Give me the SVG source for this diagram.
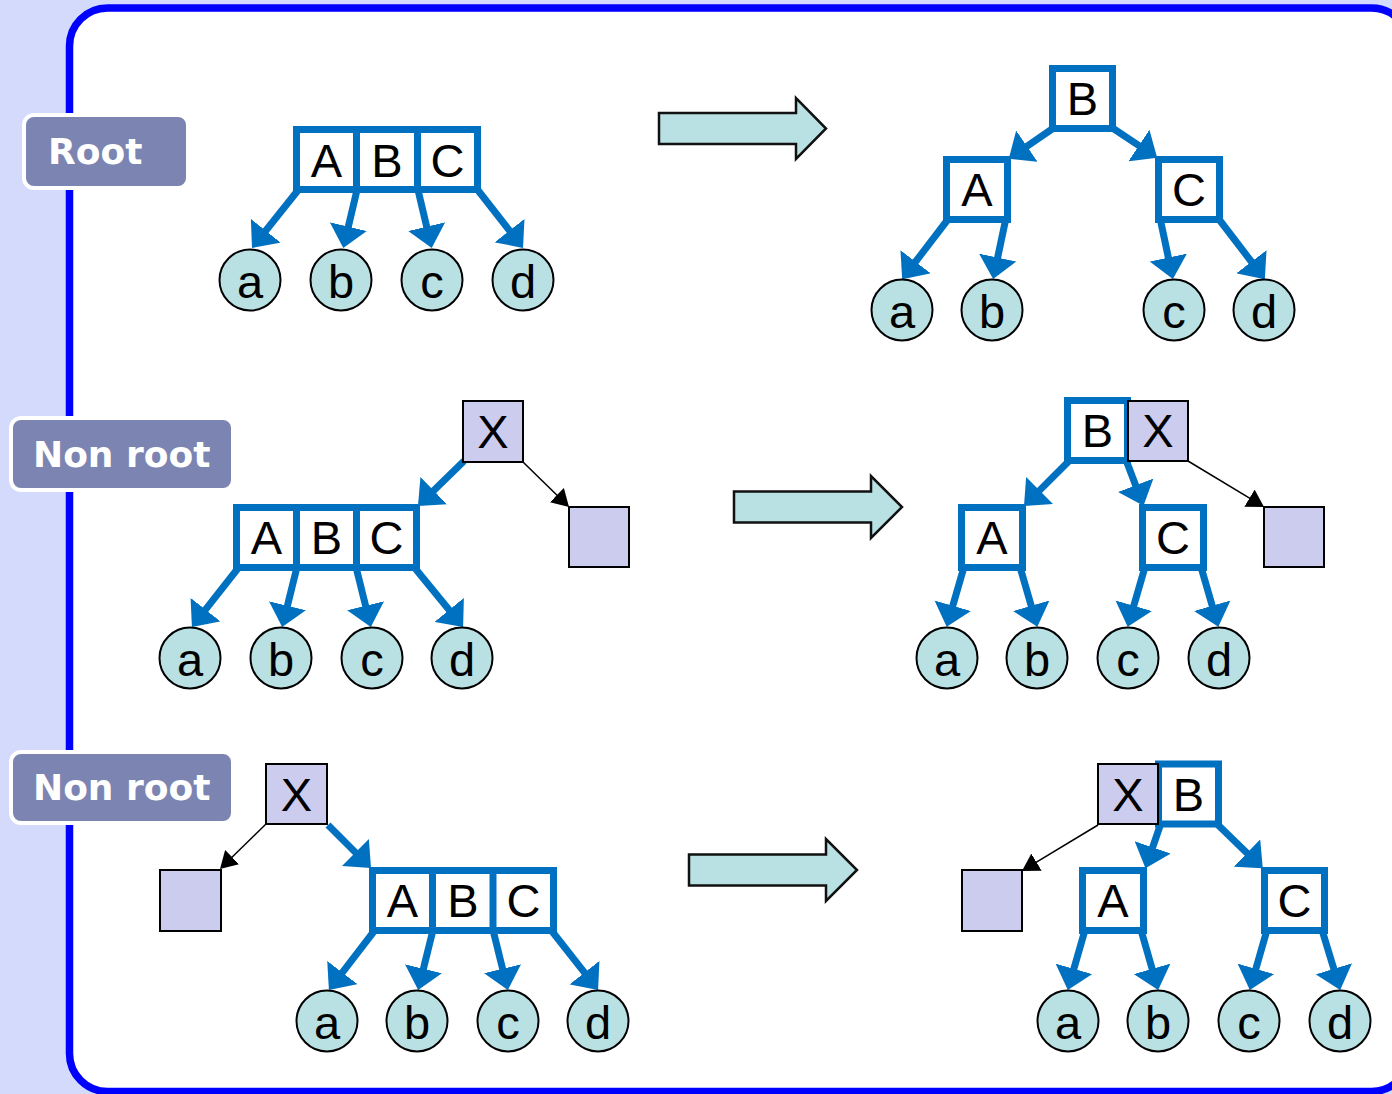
<svg xmlns="http://www.w3.org/2000/svg" width="1392" height="1094" viewBox="0 0 1392 1094">
<style>
.bnode{fill:#fff;stroke:#0070C0;stroke-width:7}
.div{stroke:#0070C0;stroke-width:7}
.xnode{fill:#CCCCEE;stroke:#000;stroke-width:2}
.leaf{fill:#B9E0E2;stroke:#000;stroke-width:2}
.t{font-family:"Liberation Sans",Arial,sans-serif;font-size:47px;fill:#000;text-anchor:middle}
.lbl{fill:#7C84B1;stroke:#fff;stroke-width:4}
.lt{font-family:"DejaVu Sans",Verdana,sans-serif;font-weight:bold;font-size:36px;fill:#fff}
.conn{fill:none;stroke:#0070C0;stroke-width:7;marker-end:url(#ab)}
.thin{fill:none;stroke:#000;stroke-width:1.5;marker-end:url(#ak)}
.big{fill:#B9E0E2;stroke:#111;stroke-width:2.5;stroke-linejoin:miter}
</style>
<defs>
<marker id="ab" markerUnits="userSpaceOnUse" viewBox="0 0 22 38" markerWidth="22" markerHeight="38" refX="1" refY="19" orient="auto">
<path d="M0,0 L22,19 L0,38 Z" fill="#0070C0"/>
</marker>
<marker id="ak" markerUnits="userSpaceOnUse" viewBox="0 0 17 20" markerWidth="17" markerHeight="20" refX="2" refY="10" orient="auto">
<path d="M0,0 L17,10 L0,20 Z" fill="#000"/>
</marker>
</defs>
<rect x="0" y="0" width="1392" height="1094" fill="#D4DAFC"/>
<rect id="frame" x="69.5" y="8" width="1340" height="1083.5" rx="38" ry="38" fill="#fff" stroke="#0000FF" stroke-width="7.5"/>

<g id="labels">
<g id="label-root"><rect class="lbl" x="24" y="115" width="164" height="73" rx="10"/><text class="lt" x="48" y="164">Root</text></g>
<g id="label-nonroot-1"><rect class="lbl" x="11" y="418" width="222" height="72" rx="10"/><text class="lt" x="33" y="467">Non root</text></g>
<g id="label-nonroot-2"><rect class="lbl" x="11" y="752" width="222" height="71" rx="10"/><text class="lt" x="33" y="800">Non root</text></g>
</g>

<g id="transform-arrows">
<path class="big" d="M659,113 H796 V98 L826,128.5 L796,159 V144 H659 Z"/>
<path class="big" d="M734,491.5 H871 V476 L902,507 L871,538 V522.5 H734 Z"/>
<path class="big" d="M689,854.5 H826 V839 L857,870 L826,901 V885.5 H689 Z"/>
</g>

<g id="connectors">
<!-- row 1 left -->
<line class="conn" x1="299" y1="189" x2="265.1" y2="231.5"/>
<line class="conn" x1="357" y1="190" x2="348.1" y2="227.6"/>
<line class="conn" x1="418" y1="190" x2="426.9" y2="227.6"/>
<line class="conn" x1="477" y1="189" x2="510.1" y2="231.4"/>
<!-- row 1 right -->
<line class="conn" x1="1055" y1="127" x2="1026.1" y2="146.8"/>
<line class="conn" x1="1111" y1="127" x2="1139.7" y2="146.1"/>
<line class="conn" x1="949" y1="218" x2="914.95" y2="262.5"/>
<line class="conn" x1="1006" y1="218" x2="997.45" y2="258.5"/>
<line class="conn" x1="1160" y1="218" x2="1168.55" y2="258.5"/>
<line class="conn" x1="1218" y1="218" x2="1252.05" y2="262.5"/>
<!-- row 2 left -->
<line class="conn" x1="464" y1="461" x2="433" y2="491.3"/>
<line class="conn" x1="239" y1="567" x2="204.9" y2="610.4"/>
<line class="conn" x1="297" y1="567" x2="287.2" y2="606.7"/>
<line class="conn" x1="356" y1="567" x2="365.8" y2="606.7"/>
<line class="conn" x1="414" y1="567" x2="449.8" y2="610.7"/>
<line class="thin" x1="523" y1="462" x2="558.3" y2="496.5"/>
<!-- row 2 right -->
<line class="conn" x1="1070" y1="460" x2="1038.85" y2="491.15"/>
<line class="conn" x1="1126" y1="460" x2="1136" y2="486.2"/>
<line class="conn" x1="964" y1="567" x2="952.5" y2="606.7"/>
<line class="conn" x1="1020" y1="567" x2="1031.5" y2="606.7"/>
<line class="conn" x1="1145" y1="567" x2="1133.5" y2="606.7"/>
<line class="conn" x1="1201" y1="567" x2="1212.5" y2="606.7"/>
<line class="thin" x1="1188" y1="461" x2="1251.2" y2="499.2"/>
<!-- row 3 left -->
<line class="conn" x1="328" y1="825" x2="356.15" y2="853.15"/>
<line class="conn" x1="375" y1="930" x2="341.7" y2="973.3"/>
<line class="conn" x1="433" y1="930" x2="423.2" y2="969.7"/>
<line class="conn" x1="493" y1="930" x2="502.8" y2="969.7"/>
<line class="conn" x1="551" y1="930" x2="585.1" y2="973.4"/>
<line class="thin" x1="266" y1="824" x2="230.7" y2="858.5"/>
<!-- row 3 right -->
<line class="conn" x1="1161" y1="823" x2="1152.3" y2="848.3"/>
<line class="conn" x1="1216" y1="823" x2="1247.7" y2="853.7"/>
<line class="conn" x1="1085" y1="930" x2="1073.6" y2="969.8"/>
<line class="conn" x1="1141" y1="930" x2="1152.4" y2="969.8"/>
<line class="conn" x1="1267" y1="930" x2="1255.6" y2="969.8"/>
<line class="conn" x1="1322" y1="930" x2="1334.1" y2="969.8"/>
<line class="thin" x1="1098" y1="825" x2="1034.8" y2="863.2"/>
</g>

<!-- ROW 1 LEFT -->
<g id="r1l-abc">
<rect class="bnode" x="296.5" y="129.5" width="181" height="60"/>
<line class="div" x1="356.5" y1="129.5" x2="356.5" y2="189.5"/>
<line class="div" x1="417.5" y1="129.5" x2="417.5" y2="189.5"/>
<text class="t" x="326.5" y="177">A</text><text class="t" x="387" y="177">B</text><text class="t" x="447.5" y="177">C</text>
</g>
<g id="r1l-a"><circle class="leaf" cx="250" cy="280" r="30.5"/><text class="t" x="250" y="298">a</text></g>
<g id="r1l-b"><circle class="leaf" cx="341" cy="280" r="30.5"/><text class="t" x="341" y="298">b</text></g>
<g id="r1l-c"><circle class="leaf" cx="432" cy="280" r="30.5"/><text class="t" x="432" y="298">c</text></g>
<g id="r1l-d"><circle class="leaf" cx="523" cy="280" r="30.5"/><text class="t" x="523" y="298">d</text></g>

<!-- ROW 1 RIGHT -->
<g id="r1r-B"><rect class="bnode" x="1052.5" y="68.5" width="60" height="60"/><text class="t" x="1082.5" y="115">B</text></g>
<g id="r1r-A"><rect class="bnode" x="946.5" y="159.5" width="61" height="60"/><text class="t" x="977" y="206">A</text></g>
<g id="r1r-C"><rect class="bnode" x="1158.5" y="159.5" width="61" height="60"/><text class="t" x="1189" y="206">C</text></g>
<g id="r1r-a"><circle class="leaf" cx="902" cy="310" r="30.5"/><text class="t" x="902" y="328">a</text></g>
<g id="r1r-b"><circle class="leaf" cx="992" cy="310" r="30.5"/><text class="t" x="992" y="328">b</text></g>
<g id="r1r-c"><circle class="leaf" cx="1174" cy="310" r="30.5"/><text class="t" x="1174" y="328">c</text></g>
<g id="r1r-d"><circle class="leaf" cx="1264" cy="310" r="30.5"/><text class="t" x="1264" y="328">d</text></g>

<!-- ROW 2 LEFT -->
<g id="r2l-X"><rect class="xnode" x="463" y="401" width="60" height="61"/><text class="t" x="493" y="448">X</text></g>
<g id="r2l-sq"><rect class="xnode" x="569" y="507" width="60" height="60"/></g>
<g id="r2l-abc">
<rect class="bnode" x="236.5" y="507.5" width="180" height="60"/>
<line class="div" x1="296.5" y1="507.5" x2="296.5" y2="567.5"/>
<line class="div" x1="356.5" y1="507.5" x2="356.5" y2="567.5"/>
<text class="t" x="266.5" y="554">A</text><text class="t" x="326.5" y="554">B</text><text class="t" x="386.5" y="554">C</text>
</g>
<g id="r2l-a"><circle class="leaf" cx="190" cy="658" r="30.5"/><text class="t" x="190" y="676">a</text></g>
<g id="r2l-b"><circle class="leaf" cx="281" cy="658" r="30.5"/><text class="t" x="281" y="676">b</text></g>
<g id="r2l-c"><circle class="leaf" cx="372" cy="658" r="30.5"/><text class="t" x="372" y="676">c</text></g>
<g id="r2l-d"><circle class="leaf" cx="462" cy="658" r="30.5"/><text class="t" x="462" y="676">d</text></g>

<!-- ROW 2 RIGHT -->
<g id="r2r-B"><rect class="bnode" x="1067.5" y="400.5" width="60" height="60"/><text class="t" x="1097.5" y="447">B</text></g>
<g id="r2r-X"><rect class="xnode" x="1128" y="401" width="60" height="60"/><text class="t" x="1158" y="447">X</text></g>
<g id="r2r-sq"><rect class="xnode" x="1264" y="507" width="60" height="60"/></g>
<g id="r2r-A"><rect class="bnode" x="961.5" y="507.5" width="61" height="60"/><text class="t" x="992" y="554">A</text></g>
<g id="r2r-C"><rect class="bnode" x="1142.5" y="507.5" width="61" height="60"/><text class="t" x="1173" y="554">C</text></g>
<g id="r2r-a"><circle class="leaf" cx="947" cy="658" r="30.5"/><text class="t" x="947" y="676">a</text></g>
<g id="r2r-b"><circle class="leaf" cx="1037" cy="658" r="30.5"/><text class="t" x="1037" y="676">b</text></g>
<g id="r2r-c"><circle class="leaf" cx="1128" cy="658" r="30.5"/><text class="t" x="1128" y="676">c</text></g>
<g id="r2r-d"><circle class="leaf" cx="1219" cy="658" r="30.5"/><text class="t" x="1219" y="676">d</text></g>

<!-- ROW 3 LEFT -->
<g id="r3l-X"><rect class="xnode" x="266" y="764" width="61" height="60"/><text class="t" x="296.5" y="811">X</text></g>
<g id="r3l-sq"><rect class="xnode" x="160" y="870" width="61" height="61"/></g>
<g id="r3l-abc">
<rect class="bnode" x="372.5" y="870.5" width="181" height="60"/>
<line class="div" x1="432.5" y1="870.5" x2="432.5" y2="930.5"/>
<line class="div" x1="493" y1="870.5" x2="493" y2="930.5"/>
<text class="t" x="402.5" y="917">A</text><text class="t" x="463" y="917">B</text><text class="t" x="523.5" y="917">C</text>
</g>
<g id="r3l-a"><circle class="leaf" cx="327" cy="1021" r="30.5"/><text class="t" x="327" y="1039">a</text></g>
<g id="r3l-b"><circle class="leaf" cx="417" cy="1021" r="30.5"/><text class="t" x="417" y="1039">b</text></g>
<g id="r3l-c"><circle class="leaf" cx="508" cy="1021" r="30.5"/><text class="t" x="508" y="1039">c</text></g>
<g id="r3l-d"><circle class="leaf" cx="598" cy="1021" r="30.5"/><text class="t" x="598" y="1039">d</text></g>

<!-- ROW 3 RIGHT -->
<g id="r3r-B"><rect class="bnode" x="1158.5" y="764" width="60" height="60"/><text class="t" x="1188.5" y="811">B</text></g>
<g id="r3r-X"><rect class="xnode" x="1098" y="764" width="60" height="60"/><text class="t" x="1128" y="811">X</text></g>
<g id="r3r-sq"><rect class="xnode" x="962" y="870" width="60" height="61"/></g>
<g id="r3r-A"><rect class="bnode" x="1082.5" y="870.5" width="61" height="60"/><text class="t" x="1113" y="917">A</text></g>
<g id="r3r-C"><rect class="bnode" x="1264.5" y="870.5" width="60" height="60"/><text class="t" x="1294.5" y="917">C</text></g>
<g id="r3r-a"><circle class="leaf" cx="1068" cy="1021" r="30.5"/><text class="t" x="1068" y="1039">a</text></g>
<g id="r3r-b"><circle class="leaf" cx="1158" cy="1021" r="30.5"/><text class="t" x="1158" y="1039">b</text></g>
<g id="r3r-c"><circle class="leaf" cx="1249" cy="1021" r="30.5"/><text class="t" x="1249" y="1039">c</text></g>
<g id="r3r-d"><circle class="leaf" cx="1340" cy="1021" r="30.5"/><text class="t" x="1340" y="1039">d</text></g>
</svg>
